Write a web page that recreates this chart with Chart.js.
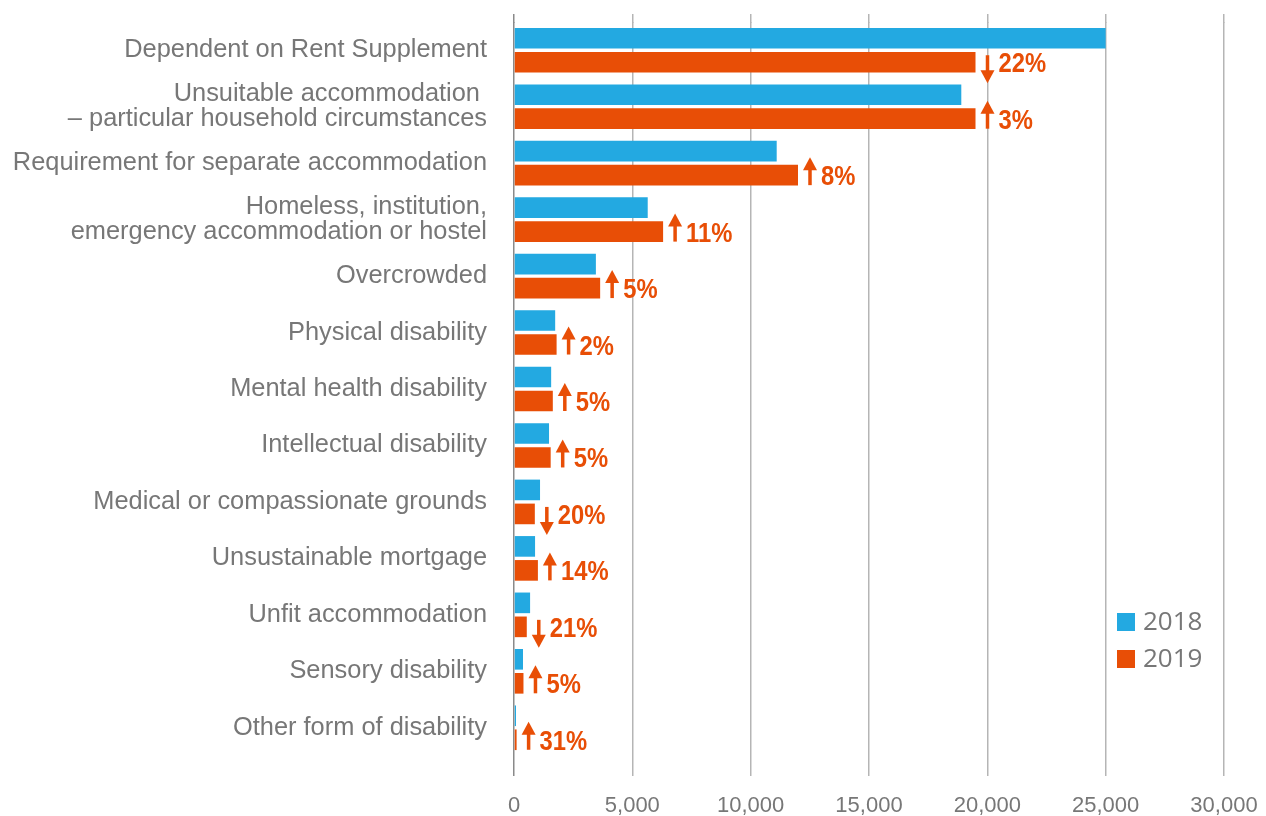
<!DOCTYPE html>
<html>
<head>
<meta charset="utf-8">
<title>Housing need by basis, 2018 vs 2019</title>
<script src="https://cdn.jsdelivr.net/npm/chart.js@4/dist/chart.umd.min.js"></script>
<style>
  html, body { margin: 0; padding: 0; background: #fff; }
  #wrap { width: 1266px; height: 816px; }
</style>
</head>
<body>
<div id="wrap"><canvas id="needs-chart" width="1266" height="816"></canvas></div>
<script>
// Categories (top to bottom)
const categories = [
  'Dependent on Rent Supplement',
  ['Unsuitable accommodation ', '– particular household circumstances'],
  'Requirement for separate accommodation',
  ['Homeless, institution,', 'emergency accommodation or hostel'],
  'Overcrowded',
  'Physical disability',
  'Mental health disability',
  'Intellectual disability',
  'Medical or compassionate grounds',
  'Unsustainable mortgage',
  'Unfit accommodation',
  'Sensory disability',
  'Other form of disability'
];

// Values
const values2018 = [25000, 18900, 11100, 5650, 3460, 1740, 1570, 1480, 1100, 890, 680, 380, 85];
const values2019 = [19500, 19500, 12000, 6300, 3640, 1800, 1640, 1550, 880, 1010, 540, 400, 110];

// Change labels printed beside each pair (percent)
const changes = [-22, 3, 8, 11, 5, 2, 5, 5, -20, 14, -21, 5, 31];

const xTicks = [0, 5000, 10000, 15000, 20000, 25000, 30000];

const BLUE = '#23A9E1';
const ORANGE = '#E84E06';
const GREY = '#777777';
const GRID_W = 1.5;

// same pixel snapping Chart.js uses for grid lines
function alignPx(px, w) {
  return Math.round(px - w / 2) + w / 2;
}

// Grid lines in the original start a little above the first bar
const gridTop = {
  id: 'gridTop',
  beforeDatasetsDraw(chart) {
    const { ctx, chartArea } = chart;
    const xs = chart.scales.x;
    ctx.save();
    ctx.lineWidth = GRID_W;
    xs.ticks.forEach((t, i) => {
      const x = alignPx(xs.getPixelForValue(t.value), GRID_W);
      ctx.strokeStyle = i === 0 ? '#8a8a8a' : '#b5b5b5';
      ctx.beginPath();
      ctx.moveTo(x, 14);
      ctx.lineTo(x, chartArea.top + 1);
      ctx.stroke();
    });
    ctx.restore();
  }
};

// Arrows + percentage text next to the 2019 bar
const changeLabels = {
  id: 'changeLabels',
  afterDatasetsDraw(chart) {
    const { ctx } = chart;
    const m19 = chart.getDatasetMeta(1);
    ctx.save();
    ctx.fillStyle = ORANGE;
    ctx.strokeStyle = ORANGE;
    ctx.font = "bold 28px 'Liberation Sans', Arial, sans-serif";
    ctx.textAlign = 'left';
    ctx.textBaseline = 'alphabetic';
    changes.forEach((chg, i) => {
      const b19 = m19.data[i];
      const cy = b19.y;
      const ax = b19.x + 12;
      const up = chg > 0;
      const top = up ? cy - 18 : cy - 7;
      const bot = up ? cy + 10 : cy + 21;
      const head = 13;
      // shaft
      ctx.lineWidth = 3.5;
      ctx.beginPath();
      if (up) {
        ctx.moveTo(ax, bot);
        ctx.lineTo(ax, top + head - 1);
      } else {
        ctx.moveTo(ax, top);
        ctx.lineTo(ax, bot - head + 1);
      }
      ctx.stroke();
      // head
      ctx.beginPath();
      if (up) {
        ctx.moveTo(ax, top);
        ctx.lineTo(ax - 7, top + head);
        ctx.lineTo(ax + 7, top + head);
      } else {
        ctx.moveTo(ax, bot);
        ctx.lineTo(ax - 7, bot - head);
        ctx.lineTo(ax + 7, bot - head);
      }
      ctx.closePath();
      ctx.fill();
      // condensed look
      ctx.save();
      ctx.translate(ax + 11, cy + 10);
      ctx.scale(0.85, 1);
      ctx.fillText(Math.abs(chg) + '%', 0, 0);
      ctx.restore();
    });
    ctx.restore();
  }
};

// Simple legend in the lower right
const sideLegend = {
  id: 'sideLegend',
  afterDraw(chart) {
    const { ctx } = chart;
    ctx.save();
    ctx.font = "26px 'Open Sans', sans-serif";
    ctx.textAlign = 'left';
    ctx.textBaseline = 'middle';
    chart.data.datasets.forEach((ds, i) => {
      const y = 613 + i * 37;
      ctx.fillStyle = ds.backgroundColor;
      ctx.fillRect(1117, y, 18, 18);
      ctx.fillStyle = GREY;
      ctx.fillText(ds.label, 1143, y + 10);
    });
    ctx.restore();
  }
};

const ctx = document.getElementById('needs-chart').getContext('2d');

new Chart(ctx, {
  type: 'bar',
  data: {
    labels: categories,
    datasets: [
      {
        label: '2018',
        data: values2018,
        backgroundColor: BLUE,
        categoryPercentage: 0.85,
        barPercentage: 0.86
      },
      {
        label: '2019',
        data: values2019,
        backgroundColor: ORANGE,
        categoryPercentage: 0.85,
        barPercentage: 0.86
      }
    ]
  },
  options: {
    indexAxis: 'y',
    responsive: false,
    animation: false,
    layout: {
      padding: { top: 22, right: 42, bottom: 0, left: 0 }
    },
    plugins: {
      legend: { display: false },
      tooltip: { enabled: false }
    },
    scales: {
      x: {
        min: 0,
        max: 30000,
        afterBuildTicks(scale) {
          scale.ticks = xTicks.map(v => ({ value: v }));
        },
        afterFit(scale) {
          scale.height = 60;
          scale.paddingLeft = 0;
          scale.paddingRight = 0;
        },
        border: { display: false },
        grid: {
          color: c => (c.index === 0 ? '#8a8a8a' : '#b5b5b5'),
          lineWidth: GRID_W,
          tickLength: 20,
          drawTicks: true
        },
        ticks: {
          color: GREY,
          padding: 17,
          font: { family: "'Liberation Sans', Arial, sans-serif", size: 22 },
          callback: v => v.toLocaleString('en-US')
        }
      },
      y: {
        afterFit(scale) {
          scale.width = 514;
          scale.paddingTop = 0;
          scale.paddingBottom = 0;
        },
        border: { display: false },
        grid: { display: false, drawTicks: false },
        ticks: {
          color: GREY,
          padding: 27,
          autoSkip: false,
          font: { family: "'Liberation Sans', Arial, sans-serif", size: 25.4, lineHeight: 0.97 }
        }
      }
    }
  },
  plugins: [gridTop, changeLabels, sideLegend]
});
</script>
</body>
</html>
